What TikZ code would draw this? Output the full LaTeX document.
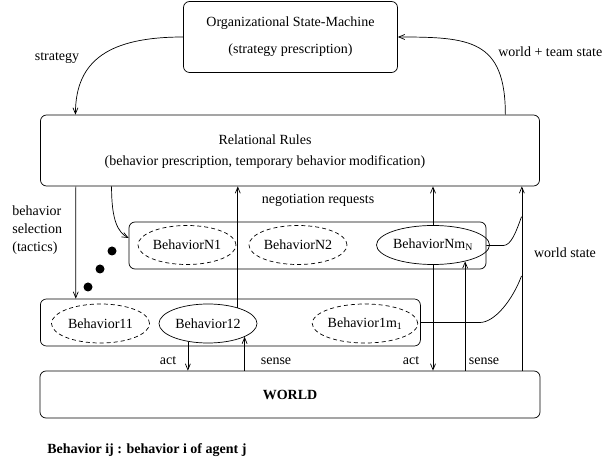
\documentclass[tikz,border=0pt]{standalone}
\usepackage{fontspec}
\setmainfont{Liberation Serif}
\usetikzlibrary{arrows.meta,calc,shapes.geometric}

\tikzset{
  box/.style={draw,rounded corners=6pt,inner sep=0pt},
  behav/.style={draw,ellipse,dash pattern=on 4pt off 3pt,minimum width=98pt,minimum height=39pt,inner sep=0pt},
  activebehav/.style={behav,solid},
}

\begin{document}
\begin{tikzpicture}[x=1pt,y=1pt,>={Straight Barb[length=6pt,width=5pt]},font=\fontsize{14}{18}\selectfont,inner sep=1pt,line width=0.7pt]
\useasboundingbox (0,0) rectangle (602,458);
% strategy level
\node[box,minimum width=214pt,minimum height=71pt,align=center] (orgsm) at (290.5,421) {Organizational State-Machine\\[9pt](strategy prescription)};
\node[box,minimum width=499pt,minimum height=71pt] (rules) at (290,307.5) {};
\node[align=center] (rulestxt) at (265,306.5) {Relational Rules\\[3pt](behavior prescription, temporary behavior modification)};
% agents and their behaviors
\node[box,minimum width=357pt,minimum height=47pt] (agentN) at (307.5,212.5) {};
\node[box,minimum width=380pt,minimum height=47pt] (agentA) at (230.4,135.5) {};
\node[behav] (bN1) at (187,213) {BehaviorN1};
\node[behav] (bN2) at (298,213) {BehaviorN2};
\node[activebehav] (bNm) at (433,213) {BehaviorNm\textsubscript{N}};
\node[behav] (b11) at (100.5,134.5) {Behavior11};
\node[activebehav] (b12) at (208,134.5) {Behavior12};
\node[behav] (b1m) at (365,134.5) {Behavior1m\textsubscript{1}};
\node[box,minimum width=500pt,minimum height=47pt] (world) at (290,63.5) {\bfseries WORLD};
\foreach \x/\y in {112/207,100/189,88/171} \fill (\x,\y) circle (4.5pt);
% labels
\node (strategy) at (57,400) {strategy};
\node[anchor=west] (wtstate) at (497,406) {world + team state};
\node (negreq) at (318,258) {negotiation requests};
\node[align=left,anchor=west] (bselect) at (11,228) {behavior\\selection\\(tactics)};
\node (wstate) at (565,205) {world state};
\node (act1) at (168,97) {act};
\node (sense1) at (276,97) {sense};
\node (act2) at (411,97) {act};
\node (sense2) at (484,97) {sense};
\node[anchor=west] (legend) at (46,8) {\bfseries Behavior ij : behavior i of agent j};
% connectors
\coordinate (wsbot) at ($(world.north east)+(-18.5,0)$);
\coordinate (wsN) at (521.5,241.3);
\coordinate (wsA) at (521.5,182);
\draw[->] (orgsm.west) .. controls +(-73,0) and +(0,55) .. ($(rules.north west)+(35.3,0)$);
\draw[->] ($(rules.north east)+(-34.5,0)$) .. controls +(0,75) and +(72,0) .. (orgsm.east);
\draw[->] ($(rules.south west)+(35.7,0)$) -- ($(agentA.north west)+(35.7,0)$);
\draw[->] ($(rules.south west)+(71.4,0)$) .. controls +(0,-34) and +(-11,6) .. ($(agentN.west)+(0,7.5)$);
\draw[->] (b12.28) -- (b12.28 |- rules.south);
\draw[->] (b12.222) -- (b12.222 |- world.north);
\draw[->] (b12.340 |- world.north) -- (b12.340);
\draw[->] (bNm.north) -- (bNm.north |- rules.south);
\draw[->] (bNm.south) -- (bNm.south |- world.north);
\draw[->] (bNm.333 |- world.north) -- (bNm.333);
\draw[->] (wsbot) -- (wsbot |- rules.south);
\draw (agentN.east) -- +(17,0) .. controls +(8,0) and +(-5,-14) .. (wsN);
\draw (agentA.east) -- +(59,0) .. controls +(15,0) and +(-9,-24) .. (wsA);
\end{tikzpicture}
\end{document}
